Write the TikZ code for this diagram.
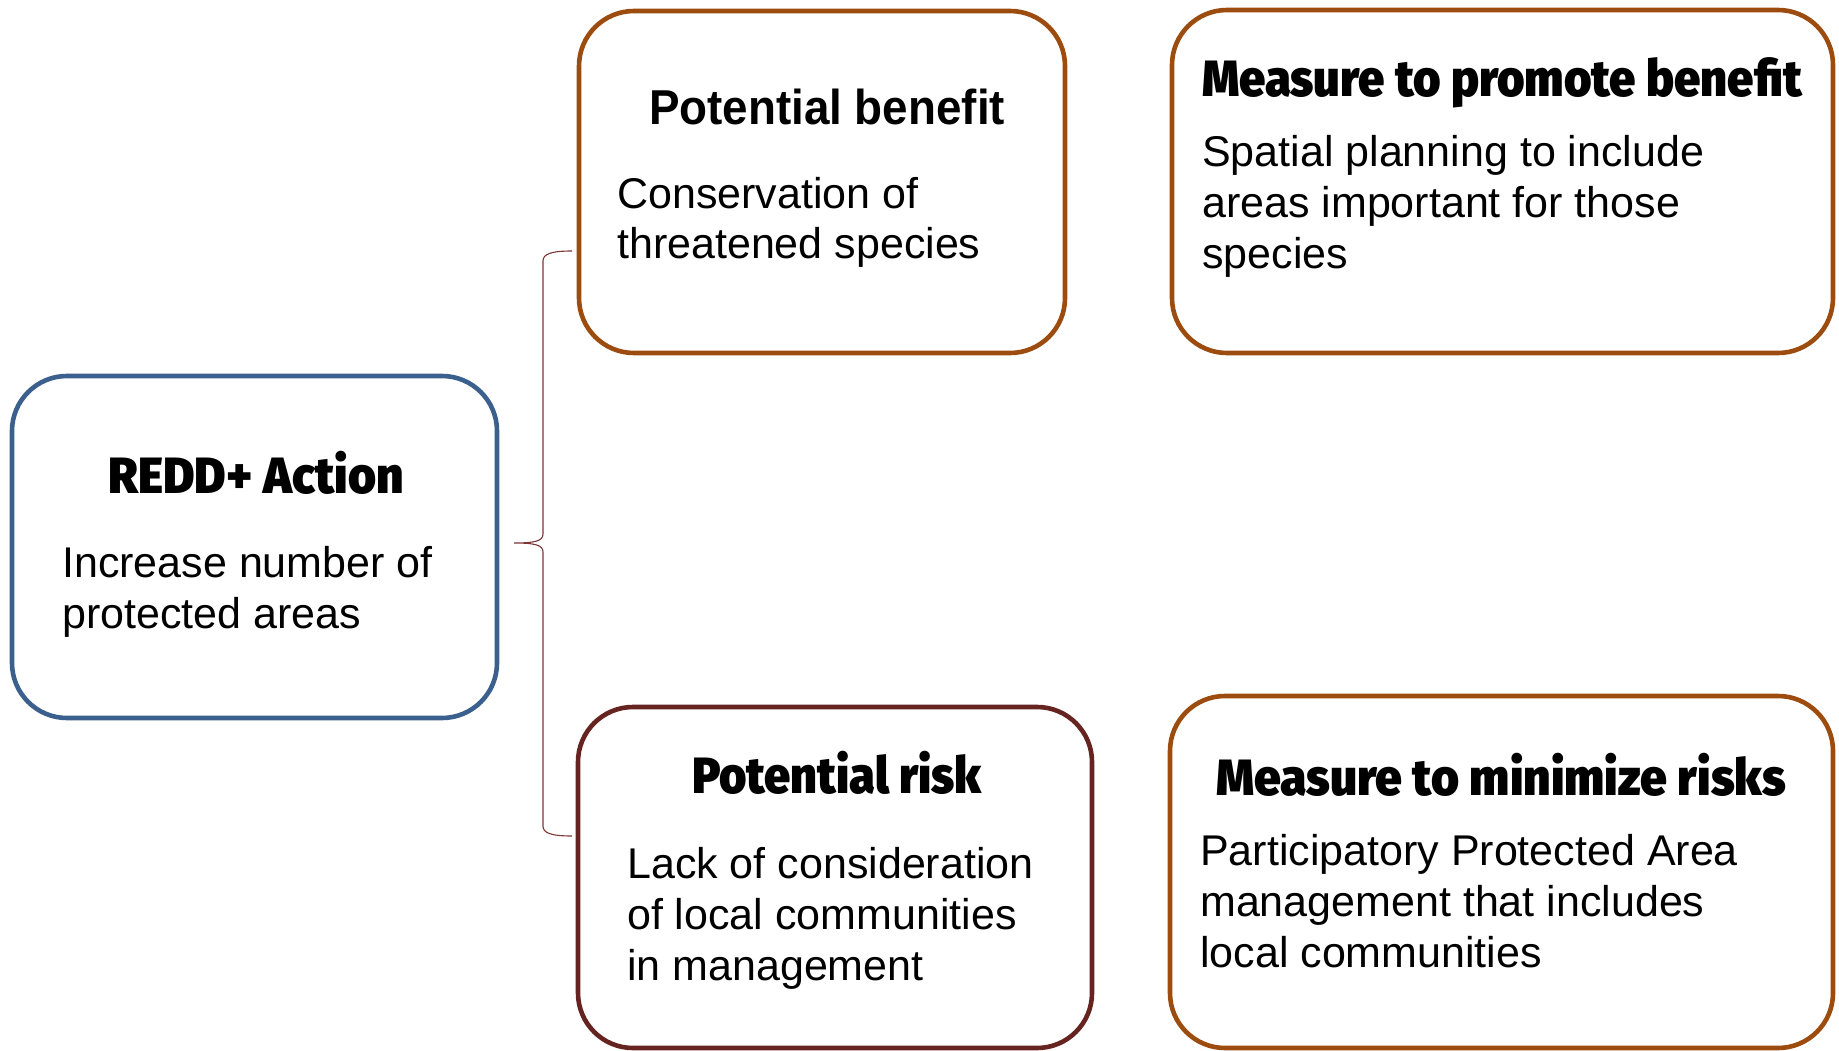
\documentclass[tikz,border=0pt]{standalone}
\usepackage{fontspec}
\usepackage{graphicx}
\setmainfont{Liberation Sans}
\newfontfamily\heavyfont{Fira Sans Black}
\usetikzlibrary{calc}

\definecolor{actionblue}{RGB}{59,96,142}
\definecolor{benefitbrown}{RGB}{156,76,14}
\definecolor{riskmaroon}{RGB}{102,36,33}
\definecolor{bracered}{RGB}{125,52,52}

% stretch or squeeze a heading to a given width (in pt)
\newsavebox\fitbox
\newcommand\fitwidth[2]{\sbox\fitbox{#2}\pgfmathsetmacro\fitsx{#1/\the\wd\fitbox}\scalebox{\fitsx}[1]{\usebox\fitbox}}
% left-aligned lines hanging from the baseline of the first one
\newcommand\paralines[1]{\begin{tabular}[t]{@{}l@{}}#1\end{tabular}}

\tikzset{
  panel/.style={draw=#1, line width=4.6pt, rounded corners=55pt, fill=white, inner sep=0pt},
  heading/.style={anchor=base, inner sep=0pt, font=\heavyfont\fontsize{51}{60}\selectfont},
  bodytext/.style={anchor=base west, inner sep=0pt, font=\fontsize{43}{51}\selectfont},
  bracestroke/.style={draw=bracered, line width=1.1pt}
}

\begin{document}
\begin{tikzpicture}[x=1pt, y=-1pt]
  \useasboundingbox (0,0) rectangle (1839,1051);

  % boxes
  \node[panel=actionblue, minimum width=485, minimum height=342] (action) at (254.5,547) {};
  \node[panel=benefitbrown, minimum width=486, minimum height=342] (benefit) at (822,182) {};
  \node[panel=benefitbrown, minimum width=661, minimum height=343] (promote) at (1502.5,181.5) {};
  \node[panel=riskmaroon, minimum width=514, minimum height=341] (risk) at (835,877.5) {};
  \node[panel=benefitbrown, minimum width=663, minimum height=352] (minimize) at (1501.5,872) {};

  % headings
  \node[heading] (actiontitle) at (256,493) {\fitwidth{295}{REDD+ Action}};
  \node[heading, font=\bfseries\fontsize{49}{58}\selectfont] (benefittitle) at (827,125) {\fitwidth{356}{Potential benefit}};
  \node[heading] (promotetitle) at (1502,97) {\fitwidth{600}{Measure to promote benefit}};
  \node[heading] (risktitle) at (837,793) {\fitwidth{290}{Potential risk}};
  \node[heading] (minimizetitle) at (1501,795) {\fitwidth{570}{Measure to minimize risks}};

  % descriptions
  \node[bodytext] (actiontext) at (62,577) {\paralines{Increase number of\\protected areas}};
  \node[bodytext] (benefittext) at (617,208) {\paralines{Conservation of\\threatened species}};
  \node[bodytext] (promotetext) at (1202,167) {\paralines{Spatial planning to include\\areas important for those\\species}};
  \node[bodytext] (risktext) at (627,878) {\paralines{Lack of consideration\\of local communities\\in management}};
  \node[bodytext] (minimizetext) at (1200,865) {\paralines{Participatory Protected Area\\management that includes\\local communities}};

  % brace linking the action to its benefit and its risk
  \coordinate (brtop) at (572,251);
  \coordinate (brtip) at (514,543);
  \coordinate (brbot) at (572,836);
  \draw[bracestroke]
    (brtop) .. controls ($(brtop)+(-21,0)$) and ($(brtop)+(-29,3)$) .. ($(brtop)+(-29,10)$)
    -- ($(brtip)+(29,-9)$)
    .. controls ($(brtip)+(29,-2)$) and ($(brtip)+(21,0)$) .. (brtip)
    .. controls ($(brtip)+(21,0)$) and ($(brtip)+(29,2)$) .. ($(brtip)+(29,9)$)
    -- ($(brbot)+(-29,-10)$)
    .. controls ($(brbot)+(-29,-3)$) and ($(brbot)+(-21,0)$) .. (brbot);
\end{tikzpicture}
\end{document}
